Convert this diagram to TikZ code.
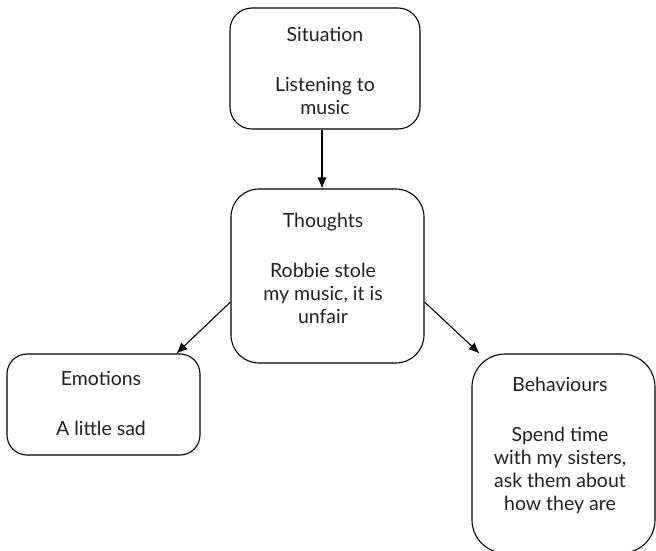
\documentclass[tikz,border=0pt]{standalone}
\usepackage{fontspec}
\setmainfont{Lato}
\usetikzlibrary{arrows.meta}
\definecolor{ink}{HTML}{231F20}
\tikzset{
  box/.style={draw=black, line width=1.1pt, rectangle, inner sep=0pt},
  words/.style={text=ink, align=center, inner sep=0pt, anchor=base,
    font=\fontsize{19.5}{23}\selectfont},
  arr/.style={draw=black, line width=1.1pt, -{Latex[length=11pt,width=9.5pt]}},
}
\begin{document}
\begin{tikzpicture}[x=1pt,y=1pt]
\useasboundingbox (0,0) rectangle (656,550);

% boxes
\node[box, rounded corners=22pt, minimum width=190pt, minimum height=121pt] (sit) at (325,481.5) {};
\node[box, rounded corners=28pt, minimum width=193pt, minimum height=174pt] (th) at (327.5,274) {};
\node[box, rounded corners=20pt, minimum width=193pt, minimum height=101pt] (emo) at (103.5,145.5) {};
\node[box, rounded corners=33pt, minimum width=183pt, minimum height=199pt] (beh) at (563.5,96.5) {};

% texts (anchored on the baseline of the last line)
\node[words] (sit-t) at (325,435) {Situation\\[27pt]Listening to\\music};
\node[words] (th-t) at (323,227) {Thoughts\\[27pt]Robbie stole\\my music, it is\\unfair};
\node[words] (emo-t) at (101,115) {Emotions\\[27pt]A little sad};
\node[words] (beh-t) at (560,40) {Behaviours\\[27pt]Spend time\\with my sisters,\\ask them about\\how they are};

% connectors
\draw[arr] ([xshift=-3pt]sit.south) -- ([xshift=-3pt]sit.south |- th.north);
\draw[arr] (th.195) -- (emo.35);
\draw[arr] (th.345) -- (beh.130.3);
\end{tikzpicture}
\end{document}
